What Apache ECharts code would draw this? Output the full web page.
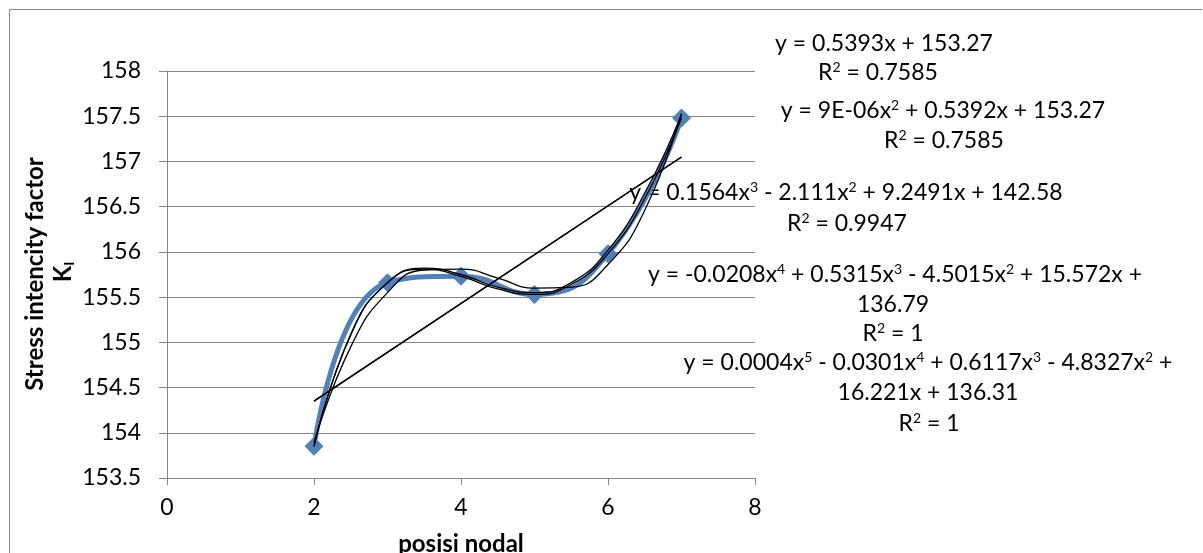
<!DOCTYPE html>
<html><head><meta charset="utf-8">
<script src="https://cdn.jsdelivr.net/npm/echarts@6/dist/echarts.min.js"></script>
<style>html,body{margin:0;padding:0;background:#fff}#c{width:1203px;height:553px}</style>
</head><body><div id="c"></div>
<script>
// Data
const xData = [2, 3, 4, 5, 6, 7];
const kValues = [153.85, 155.66, 155.73, 155.53, 155.98, 157.48];
// Trendlines
const trendX = [2, 2.5, 3, 3.5, 4, 4.5, 5, 5.5, 6, 6.5, 7];
const linearX = [2, 7];
const linearY = [154.35, 157.05];
const poly3Y = [153.89, 154.95, 155.55, 155.80, 155.81, 155.71, 155.60, 155.61, 155.86, 156.46, 157.53];
const poly4Y = [153.85, 155.08, 155.66, 155.82, 155.75, 155.61, 155.55, 155.66, 156.02, 156.65, 157.52];
const poly5Y = [153.85, 155.09, 155.66, 155.81, 155.73, 155.59, 155.53, 155.64, 155.98, 156.59, 157.48];
const xTicks = [0, 2, 4, 6, 8];
const yTicks = [153.5, 154, 154.5, 155, 155.5, 156, 156.5, 157, 157.5, 158];

const FONT = 'Lato, "Open Sans", sans-serif';
const FS = 23;
const pairs = (xs, ys) => xs.map((x, i) => [x, ys[i]]);

const chart = echarts.init(document.getElementById('c'), null, {renderer: 'canvas'});

function centered(cx, cy, text) {
  return {
    type: 'text', x: cx, y: cy,
    style: {
      text: text, fontFamily: FONT, fontSize: FS, fill: '#000',
      align: 'center', verticalAlign: 'middle',
      rich: {s: {fontSize: 14, padding: [0, 0, 12, 0], fontFamily: FONT}}
    }
  };
}

const trendStyle = {color: '#000', width: 1.3};
const option = {
  animation: false,
  backgroundColor: '#fff',
  grid: {left: 167, right: 448, top: 71, bottom: 75, containLabel: false, outerBoundsMode: 'none'},
  xAxis: {
    type: 'value', min: 0, max: 8, interval: 2,
    axisLine: {show: true, onZero: false, lineStyle: {color: '#868686', width: 1}},
    axisTick: {show: true, length: 7, lineStyle: {color: '#868686'}},
    axisLabel: {color: '#000', fontSize: FS, fontFamily: FONT, margin: 18,
      formatter: v => xTicks.includes(v) ? String(v) : ''},
    splitLine: {show: false},
    name: 'posisi nodal', nameLocation: 'middle', nameGap: 54,
    nameTextStyle: {color: '#000', fontSize: 24, fontWeight: 'bold', fontFamily: FONT}
  },
  yAxis: {
    type: 'value', min: 153.5, max: 158, interval: 0.5,
    axisLine: {show: true, onZero: false, lineStyle: {color: '#868686', width: 1}},
    axisTick: {show: true, length: 8, lineStyle: {color: '#868686'}},
    axisLabel: {color: '#000', fontSize: FS, fontFamily: FONT, margin: 26,
      formatter: v => yTicks.includes(+v.toFixed(1)) ? String(+v.toFixed(1)) : ''},
    splitLine: {show: true, lineStyle: {color: '#868686', width: 1}}
  },
  series: [
    {type: 'line', data: pairs(xData, kValues), smooth: 0.5, symbol: 'diamond', symbolSize: 19,
      itemStyle: {color: '#4F81BD'}, lineStyle: {color: '#4F81BD', width: 5}, z: 2},
    {type: 'line', data: pairs(linearX, linearY), symbol: 'none', lineStyle: trendStyle, z: 3},
    {type: 'line', data: pairs(linearX, linearY), symbol: 'none', lineStyle: trendStyle, z: 3},
    {type: 'line', data: pairs(trendX, poly3Y), smooth: 0.5, symbol: 'none', lineStyle: trendStyle, z: 3},
    {type: 'line', data: pairs(trendX, poly4Y), smooth: 0.5, symbol: 'none', lineStyle: trendStyle, z: 3},
    {type: 'line', data: pairs(trendX, poly5Y), smooth: 0.5, symbol: 'none', lineStyle: trendStyle, z: 3}
  ],
  graphic: [
    {type: 'line', shape: {x1: 9.5, y1: 9.5, x2: 1202, y2: 9.5}, style: {stroke: '#868686', lineWidth: 1}},
    {type: 'line', shape: {x1: 9.5, y1: 9.5, x2: 9.5, y2: 553}, style: {stroke: '#868686', lineWidth: 1}},
    {type: 'text', x: 35, y: 274, rotation: Math.PI / 2,
      style: {text: 'Stress intencity factor', fontFamily: FONT, fontSize: 24, fontWeight: 'bold', fill: '#000',
        align: 'center', verticalAlign: 'middle'}},
    {type: 'text', x: 63, y: 272, rotation: Math.PI / 2,
      style: {text: 'K{i|I}', fontFamily: FONT, fontSize: 24, fontWeight: 'bold', fill: '#000',
        align: 'center', verticalAlign: 'middle',
        rich: {i: {fontSize: 14, fontWeight: 'bold', fontFamily: FONT, padding: [12, 0, 0, 0]}}}},
    centered(884, 44, 'y = 0.5393x + 153.27'),
    centered(878, 73, 'R{s|2} = 0.7585'),
    centered(943, 111, 'y = 9E-06x{s|2} + 0.5392x + 153.27'),
    centered(944, 141, 'R{s|2} = 0.7585'),
    centered(846, 193, 'y = 0.1564x{s|3} - 2.111x{s|2} + 9.2491x + 142.58'),
    centered(847, 224, 'R{s|2} = 0.9947'),
    centered(895, 275, 'y = -0.0208x{s|4} + 0.5315x{s|3} - 4.5015x{s|2} + 15.572x +'),
    centered(893, 305, '136.79'),
    centered(893, 334, 'R{s|2} = 1'),
    centered(928, 363, 'y = 0.0004x{s|5} - 0.0301x{s|4} + 0.6117x{s|3} - 4.8327x{s|2} +'),
    centered(928, 393, '16.221x + 136.31'),
    centered(929, 424, 'R{s|2} = 1')
  ]
};
chart.setOption(option);
</script></body></html>
